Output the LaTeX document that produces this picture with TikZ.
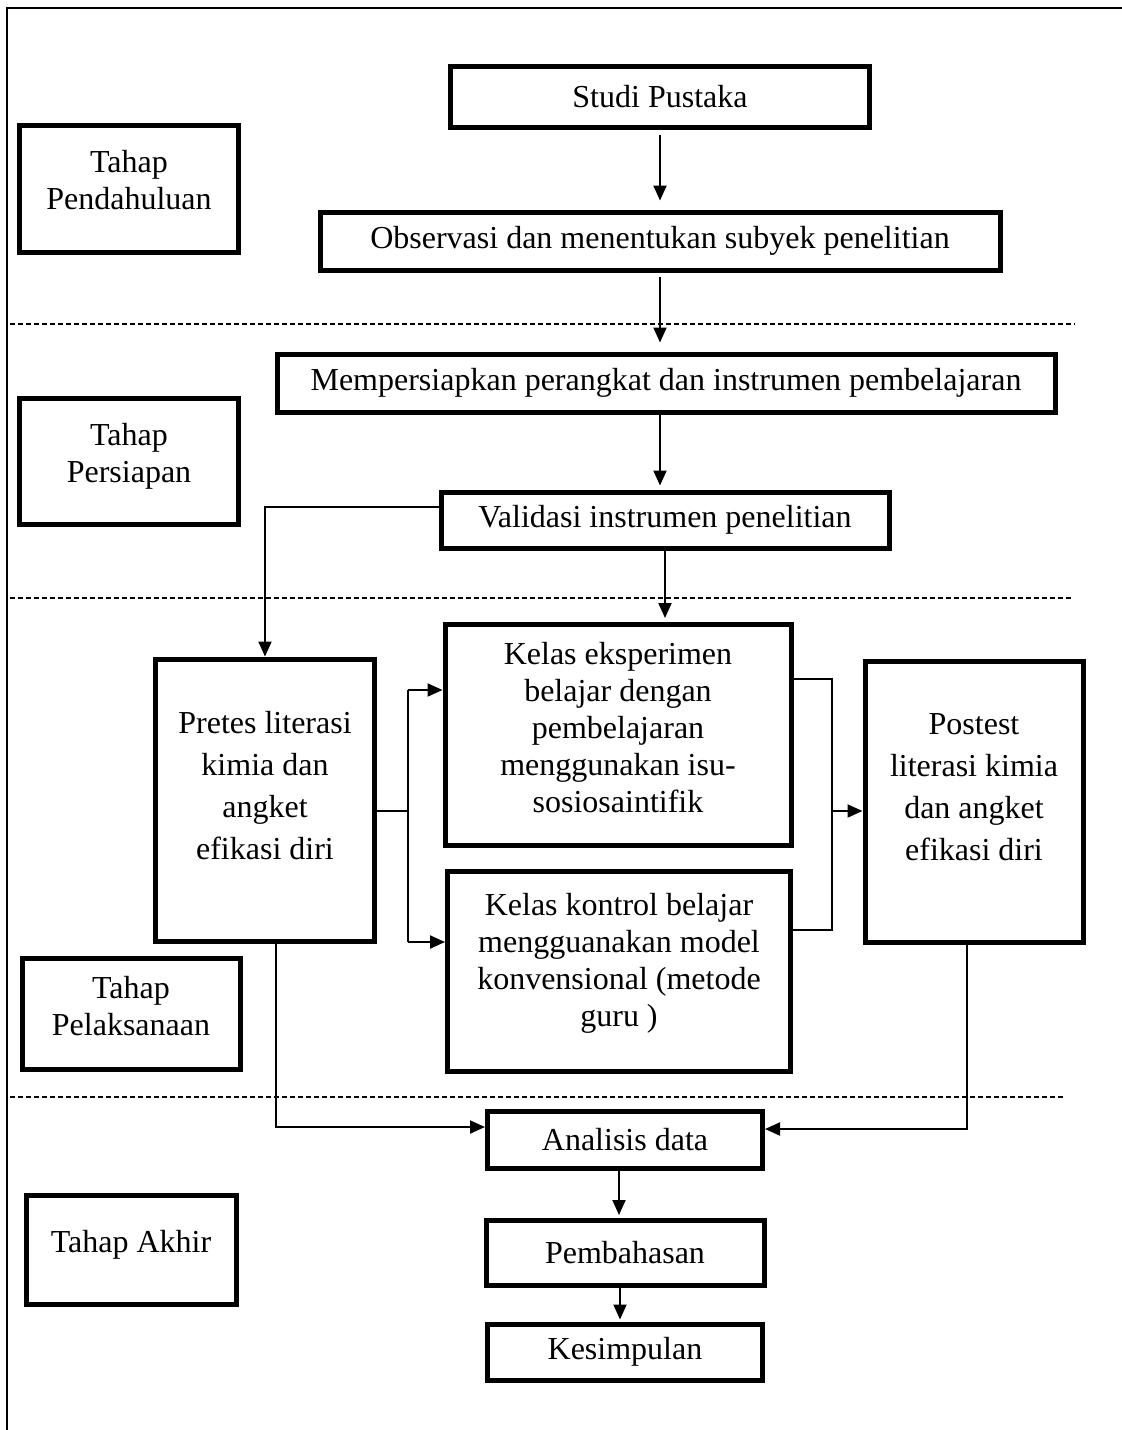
\documentclass[tikz,border=0pt]{standalone}
\usepackage{fontspec}
\setmainfont{Liberation Serif}
\usetikzlibrary{arrows.meta,positioning,calc}

\begin{document}
\begin{tikzpicture}[x=1pt,y=-1pt,
  box/.style={draw,line width=5pt,align=center,inner sep=0pt,
    font=\fontsize{32}{37}\selectfont},
  tallbox/.style={box,font=\fontsize{32}{42}\selectfont},
  link/.style={line width=2pt},
  thinlink/.style={line width=1.5pt},
  arrow/.style={link,-{Triangle[length=15pt,width=13pt]}},
  phaseline/.style={line width=1.2pt,dash pattern=on 5pt off 3pt}]
  \useasboundingbox (0,0) rectangle (1122,1430);

  % page frame (top and left only)
  \draw[line width=1.8pt] (1122,8) -- (7,8) -- (7,1430);

  % phase separators
  \draw[phaseline] (10,324) -- (1075,324);
  \draw[phaseline] (10,598) -- (1072,598);
  \draw[phaseline] (10,1097) -- (1065,1097);

  % phase labels
  \node[box,minimum width=219pt,minimum height=127pt,text depth=18pt] (pendahuluan) at (129,189) {Tahap\\Pendahuluan};
  \node[box,minimum width=219pt,minimum height=126pt,text depth=16pt] (persiapan) at (129,461) {Tahap\\Persiapan};
  \node[box,minimum width=218pt,minimum height=111pt,text depth=16pt] (pelaksanaan) at (131,1014) {Tahap\\Pelaksanaan};
  \node[box,minimum width=210pt,minimum height=109pt,text depth=18pt] (akhir) at (131,1250) {Tahap Akhir};

  % main flow
  \node[box,minimum width=419pt,minimum height=61pt] (studi) at (660,97) {Studi Pustaka};
  \node[box,minimum width=680pt,minimum height=58pt] (observasi) at (660,241) {Observasi dan menentukan subyek penelitian};
  \node[box,minimum width=778pt,minimum height=58pt] (persiapkan) at (666,383) {Mempersiapkan perangkat dan instrumen pembelajaran};
  \node[box,minimum width=448pt,minimum height=56pt] (validasi) at (665,520) {Validasi instrumen penelitian};

  \node[tallbox,minimum width=219pt,minimum height=282pt,text depth=30pt] (pretes) at (265,800) {Pretes literasi\\kimia dan\\angket\\efikasi diri};
  \node[box,minimum width=346pt,minimum height=221pt,text depth=16pt] (eksperimen) at (618,735) {Kelas eksperimen\\belajar dengan\\pembelajaran\\menggunakan isu-\\sosiosaintifik};
  \node[box,minimum width=343pt,minimum height=200pt,text depth=22pt] (kontrol) at (619,971) {Kelas kontrol belajar\\mengguanakan model\\konvensional (metode\\guru )};
  \node[tallbox,minimum width=218pt,minimum height=281pt,text depth=30pt] (postest) at (974,802) {Postest\\literasi kimia\\dan angket\\efikasi diri};

  \node[box,minimum width=275pt,minimum height=57pt] (analisis) at (625,1140) {Analisis data};
  \node[box,minimum width=278pt,minimum height=65pt] (pembahasan) at (625,1253) {Pembahasan};
  \node[box,minimum width=275pt,minimum height=56pt] (kesimpulan) at (625,1352) {Kesimpulan};

  % junction points
  \coordinate (fork) at (408,811);
  \coordinate (forkT) at (408,690);
  \coordinate (forkB) at (408,942);
  \coordinate (joinT) at (832,679);
  \coordinate (joinB) at (832,930);
  \coordinate (join) at (832,811);
  \coordinate (preOut) at ($(pretes.south)+(11,0)$);
  \coordinate (postOut) at ($(postest.south)+(-7,0)$);
  \coordinate (anaOut) at ($(analisis.south)+(-6,0)$);
  \coordinate (pemOut) at ($(pembahasan.south)+(-5,0)$);

  % vertical flow
  \draw[arrow,shorten <=5pt,shorten >=9pt] (studi.south) -- (studi.south |- observasi.north);
  \draw[arrow,shorten <=4pt,shorten >=9pt] (observasi.south) -- (observasi.south |- persiapkan.north);
  \draw[arrow,shorten >=4pt] (observasi.south |- persiapkan.south) -- (observasi.south |- validasi.north);
  \draw[arrow,shorten >=4pt] (validasi.south) -- (validasi.south |- eksperimen.north);

  % validasi to pretes
  \draw[arrow] ($(validasi.west)+(0,-13)$) -| (pretes.north);

  % split to the two classes
  \draw[link] ($(pretes.east)+(0,11)$) -- (fork);
  \draw[link] (forkT) -- (forkB);
  \draw[arrow] (forkT) -- (forkT -| eksperimen.west);
  \draw[arrow] (forkB) -- (forkB -| kontrol.west);

  % join to postest
  \draw[thinlink] (joinT -| eksperimen.east) -- (joinT) -- (joinB) -- (joinB -| kontrol.east);
  \draw[arrow] (join) -- (join -| postest.west);

  % to analysis and the end
  \draw[arrow] (preOut) |- ($(analisis.west)+(0,-13)$);
  \draw[arrow] (postOut) |- ($(analisis.east)+(0,-11)$);
  \draw[arrow,shorten >=3pt] (anaOut) -- (anaOut |- pembahasan.north);
  \draw[arrow,shorten >=2pt] (pemOut) -- (pemOut |- kesimpulan.north);
\end{tikzpicture}
\end{document}
